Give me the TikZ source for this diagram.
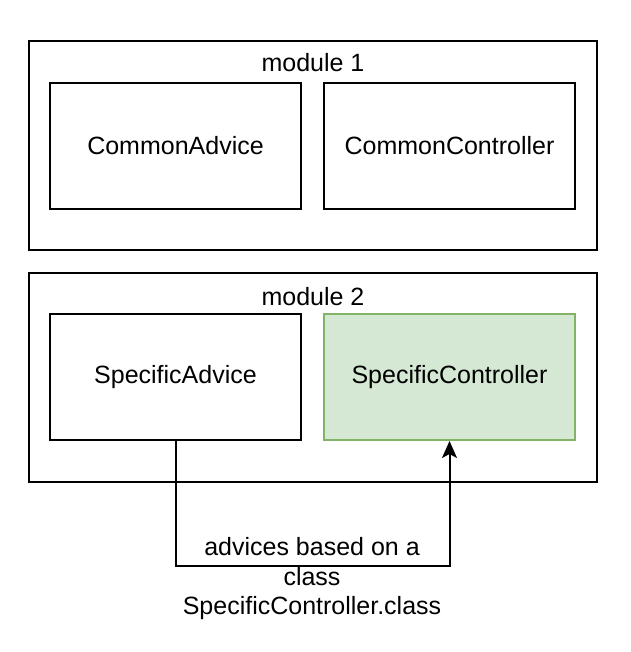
\documentclass[tikz,border=0pt]{standalone}
\usepackage{fontspec}
\setmainfont{Liberation Sans}
\usetikzlibrary{arrows.meta}
\definecolor{gfill}{HTML}{D5E8D4}
\definecolor{gdraw}{HTML}{82B366}
\begin{document}
\begin{tikzpicture}[x=1pt,y=-1pt,
  every node/.style={font=\fontsize{25}{29.5}\selectfont, inner sep=0pt},
  modbox/.style={draw=black, line width=2pt, minimum width=568pt, minimum height=209pt},
  inbox/.style={draw=black, line width=2pt, fill=white, minimum width=251pt, minimum height=126pt},
  greenbox/.style={inbox, draw=gdraw, fill=gfill},
  conn/.style={line width=2pt, -{Stealth[length=17pt,width=15pt,inset=4pt]}}]
\useasboundingbox (0,0) rectangle (630,652);
\node[modbox] (m1) at (313,145.5) {};
\node (m1t) at (313,63) {module 1};
\node[inbox] (ca) at (175.5,146) {CommonAdvice};
\node[inbox] (cc) at (449.5,146) {CommonController};
\node[modbox] (m2) at (313,377) {};
\node (m2t) at (313,297) {module 2};
\node[inbox] (sa) at (175.5,377) {SpecificAdvice};
\node[greenbox] (sc) at (449.5,377) {SpecificController};
\coordinate (bl) at (175.5,566);
\draw[conn] (sa.south) -- (bl) -| (sc.south);
\node[align=center] (lab) at (312,579) {advices based on a\\class\\SpecificController.class};
\end{tikzpicture}
\end{document}
